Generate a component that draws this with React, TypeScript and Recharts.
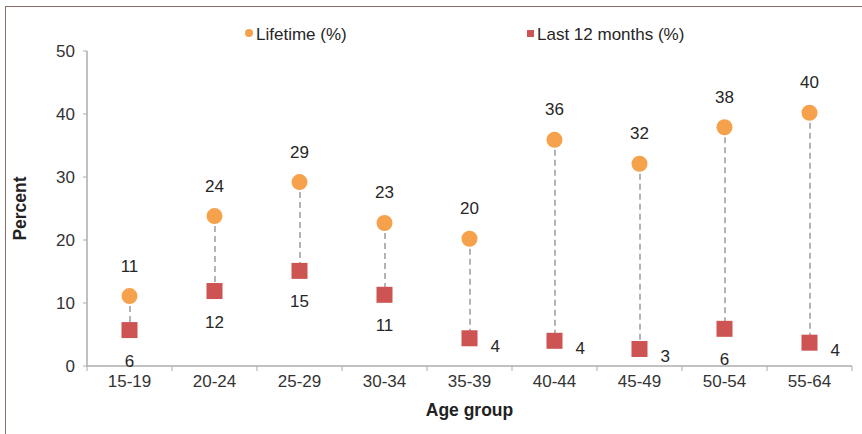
import { ComposedChart, Bar, Line, XAxis, YAxis, LabelList, Label } from "recharts";

const ageGroups = ["15-19", "20-24", "25-29", "30-34", "35-39", "40-44", "45-49", "50-54", "55-64"];
const lifetime = [11.1, 23.8, 29.2, 22.7, 20.2, 35.9, 32.1, 37.9, 40.2];
const last12 = [5.7, 11.9, 15.1, 11.3, 4.4, 4.0, 2.7, 5.9, 3.7];
// where the "last 12 months" value label sits relative to its marker
const last12LabelSide = ["below", "below", "below", "below", "right", "right", "right", "below", "right"];
const yTicks = [0, 10, 20, 30, 40, 50];

const ORANGE = "#F6A14B";
const RED = "#CD5452";
const AXIS = "#ADADAD";
const FONT = "'Liberation Sans', Arial, sans-serif";
const FS = 17;

const W = 862;
const H = 434;
const MARGIN = { top: 51, right: 10, bottom: 0, left: 0 };
const Y_AXIS_W = 87;
const X_AXIS_H = 68;
const BAND = (W - Y_AXIS_W - MARGIN.right) / ageGroups.length;

const data = ageGroups.map((group, i) => ({
  group,
  lifetime: lifetime[i],
  last12: last12[i],
  range: [last12[i], lifetime[i]],
  side: last12LabelSide[i],
}));

const DashedStem = (props: any) => {
  const { x, y, width, height } = props;
  if (x == null || y == null) return null;
  const cx = x + width / 2;
  return (
    <line
      x1={cx}
      x2={cx}
      y1={y}
      y2={y + height}
      stroke="#9A9A9A"
      strokeWidth={1.5}
      strokeDasharray="6 4"
    />
  );
};

const CircleDot = (props: any) => {
  const { cx, cy, index } = props;
  return <circle key={`c-${index}`} cx={cx} cy={cy} r={8} fill={ORANGE} />;
};

const SquareDot = (props: any) => {
  const { cx, cy, index } = props;
  return <rect key={`s-${index}`} x={cx - 8} y={cy - 8} width={16} height={16} fill={RED} />;
};

const labelStyle = { fontFamily: FONT, fontSize: FS, fill: "#262626" };

const LifetimeLabel = (props: any) => {
  const { x, y, value } = props;
  return (
    <text x={x} y={y - 30} textAnchor="middle" dominantBaseline="central" style={labelStyle}>
      {Math.round(value)}
    </text>
  );
};

const Last12Label = (props: any) => {
  const { x, y, value, index } = props;
  const right = data[index]?.side === "right";
  return (
    <text
      x={right ? x + 21 : x}
      y={right ? y + 8 : y + 31}
      textAnchor={right ? "start" : "middle"}
      dominantBaseline="central"
      style={labelStyle}
    >
      {Math.round(value)}
    </text>
  );
};

const XTick = (props: any) => {
  const { x, y, payload, index } = props;
  const left = x - BAND / 2;
  return (
    <g>
      <line x1={left} x2={left} y1={y} y2={y + 5} stroke={AXIS} />
      {index === ageGroups.length - 1 && (
        <line x1={x + BAND / 2} x2={x + BAND / 2} y1={y} y2={y + 5} stroke={AXIS} />
      )}
      <text x={x} y={y + 15} textAnchor="middle" dominantBaseline="central" style={{ fontFamily: FONT, fontSize: FS, fill: "#333" }}>
        {payload.value}
      </text>
    </g>
  );
};

export default function App() {
  return (
    <div style={{ position: "absolute", left: 0, top: 0, width: W, height: H, background: "#fff", fontFamily: FONT }}>
      {/* frame */}
      <div
        style={{
          position: "absolute",
          left: 5,
          top: 6,
          width: W - 5,
          height: H - 6,
          borderLeft: "1.5px solid #8C6E64",
          borderTop: "1.5px solid #8C6E64",
        }}
      />

      {/* legend */}
      <div style={{ position: "absolute", left: 245, top: 25, display: "flex", alignItems: "center", fontSize: FS, color: "#262626" }}>
        <span style={{ width: 8, height: 8, borderRadius: 4, background: ORANGE, marginRight: 3, marginTop: -4 }} />
        Lifetime (%)
      </div>
      <div style={{ position: "absolute", left: 527, top: 25, display: "flex", alignItems: "center", fontSize: FS, color: "#262626" }}>
        <span style={{ width: 7, height: 7, background: RED, marginRight: 3, marginTop: -4 }} />
        Last 12 months (%)
      </div>

      <ComposedChart width={W} height={H} data={data} margin={MARGIN} style={{ position: "absolute", left: 0, top: 0 }}>
        <XAxis
          dataKey="group"
          height={X_AXIS_H}
          axisLine={{ stroke: AXIS, strokeWidth: 1.5 }}
          tickLine={false}
          tickSize={0}
          tickMargin={0}
          interval={0}
          tick={<XTick />}
        >
          <Label
            content={(p: any) => {
              const vb = p.viewBox;
              return (
                <text
                  x={vb.x + vb.width / 2}
                  y={vb.y + 44}
                  textAnchor="middle"
                  dominantBaseline="central"
                  style={{ fontFamily: FONT, fontSize: 17.5, fontWeight: 700, fill: "#222" }}
                >
                  Age group
                </text>
              );
            }}
          />
        </XAxis>
        <YAxis
          width={Y_AXIS_W}
          domain={[0, 50]}
          ticks={yTicks}
          interval={0}
          axisLine={{ stroke: AXIS, strokeWidth: 1.5 }}
          tickLine={{ stroke: AXIS }}
          tickSize={4}
          tickMargin={8}
          tick={{ fontFamily: FONT, fontSize: FS, fill: "#333" }}
        >
          <Label
            content={(p: any) => {
              const vb = p.viewBox;
              const cy = vb.y + vb.height / 2;
              return (
                <text
                  x={20}
                  y={cy}
                  transform={`rotate(-90 20 ${cy})`}
                  textAnchor="middle"
                  dominantBaseline="central"
                  style={{ fontFamily: FONT, fontSize: 17.5, fontWeight: 700, fill: "#222" }}
                >
                  Percent
                </text>
              );
            }}
          />
        </YAxis>
        <Bar dataKey="range" barSize={10} shape={<DashedStem />} isAnimationActive={false} />
        <Line
          dataKey="last12"
          stroke="none"
          dot={<SquareDot />}
          activeDot={false}
          isAnimationActive={false}
        >
          <LabelList dataKey="last12" content={<Last12Label />} />
        </Line>
        <Line
          dataKey="lifetime"
          stroke="none"
          dot={<CircleDot />}
          activeDot={false}
          isAnimationActive={false}
        >
          <LabelList dataKey="lifetime" content={<LifetimeLabel />} />
        </Line>
      </ComposedChart>
    </div>
  );
}
